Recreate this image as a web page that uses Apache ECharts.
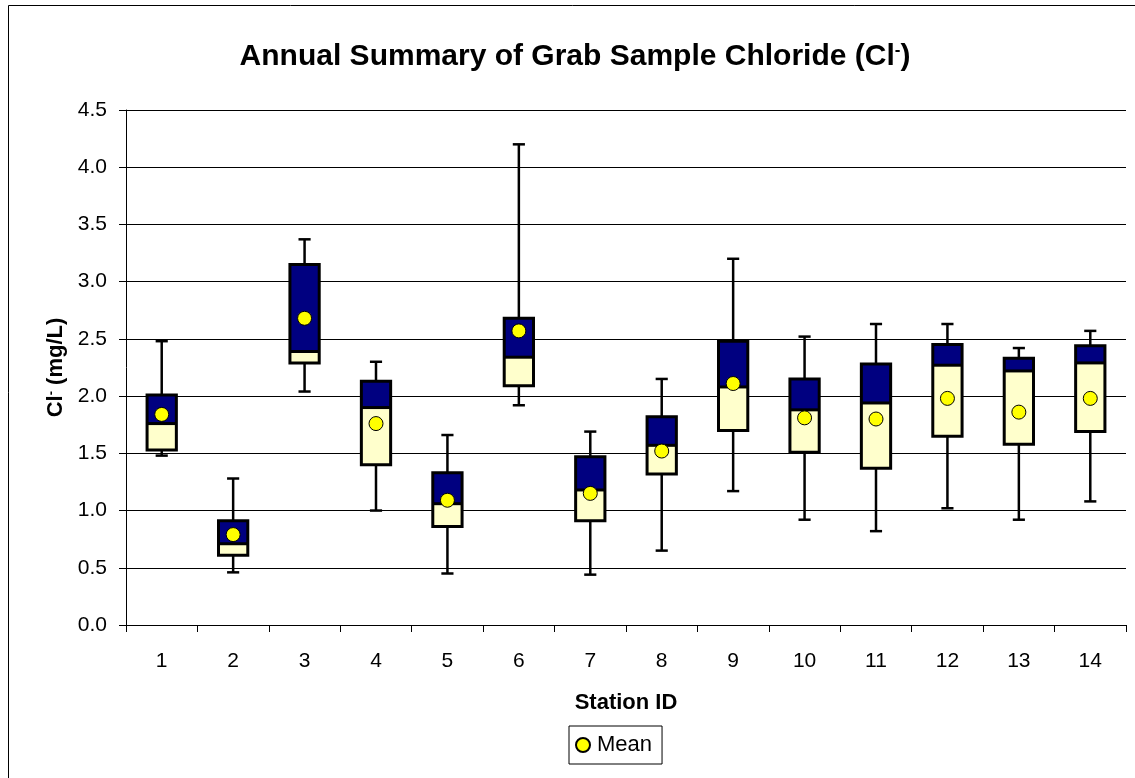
<!DOCTYPE html>
<html>
<head>
<meta charset="utf-8">
<script src="https://cdn.jsdelivr.net/npm/echarts@6/dist/echarts.min.js"></script>
<style>
html,body{margin:0;padding:0;background:#fff;}
#chart{width:1135px;height:778px;}
</style>
</head>
<body>
<div id="chart"></div>
<script>
// Data
const stations = ['1','2','3','4','5','6','7','8','9','10','11','12','13','14'];
const whiskerLow  = [1.48, 0.46, 2.04, 1.00, 0.45, 1.92, 0.44, 0.65, 1.17, 0.92, 0.82, 1.02, 0.92, 1.08];
const quartile1   = [1.53, 0.61, 2.29, 1.40, 0.86, 2.09, 0.91, 1.32, 1.70, 1.51, 1.37, 1.65, 1.58, 1.69];
const medians     = [1.76, 0.71, 2.39, 1.90, 1.06, 2.34, 1.18, 1.57, 2.08, 1.88, 1.94, 2.27, 2.22, 2.29];
const quartile3   = [2.01, 0.91, 3.15, 2.13, 1.33, 2.68, 1.47, 1.82, 2.48, 2.15, 2.28, 2.45, 2.33, 2.44];
const whiskerHigh = [2.48, 1.28, 3.37, 2.30, 1.66, 4.20, 1.69, 2.15, 3.20, 2.52, 2.63, 2.63, 2.42, 2.57];
const means       = [1.84, 0.79, 2.68, 1.76, 1.09, 2.57, 1.15, 1.52, 2.11, 1.81, 1.80, 1.98, 1.86, 1.98];
const yTicks = ['0.0','0.5','1.0','1.5','2.0','2.5','3.0','3.5','4.0','4.5'];

const boxData = stations.map((s, i) => [i, whiskerLow[i], quartile1[i], medians[i], quartile3[i], whiskerHigh[i]]);

const FONT = 'Liberation Sans, Arial, sans-serif';
const chart = echarts.init(document.getElementById('chart'), null, {renderer: 'canvas'});

function renderBox(params, api) {
  const x = api.value(0);
  const pLow = api.coord([x, api.value(1)]);
  const pQ1 = api.coord([x, api.value(2)]);
  const pMed = api.coord([x, api.value(3)]);
  const pQ3 = api.coord([x, api.value(4)]);
  const pHigh = api.coord([x, api.value(5)]);
  const band = api.size([1, 0])[0];
  const bw = band * 0.41;
  const cw = band * 0.17;
  const cx = pMed[0];
  const lineStyle = {stroke: '#000', lineWidth: 2.5};
  return {
    type: 'group',
    children: [
      {type: 'line', shape: {x1: cx, y1: pHigh[1], x2: cx, y2: pLow[1]}, style: lineStyle},
      {type: 'line', shape: {x1: cx - cw/2, y1: pHigh[1], x2: cx + cw/2, y2: pHigh[1]}, style: lineStyle},
      {type: 'line', shape: {x1: cx - cw/2, y1: pLow[1], x2: cx + cw/2, y2: pLow[1]}, style: lineStyle},
      {type: 'rect', shape: {x: cx - bw/2, y: pMed[1], width: bw, height: pQ1[1] - pMed[1]}, style: {fill: '#FFFFCC', stroke: null}},
      {type: 'rect', shape: {x: cx - bw/2, y: pQ3[1], width: bw, height: pMed[1] - pQ3[1]}, style: {fill: '#000080', stroke: null}},
      {type: 'line', shape: {x1: cx - bw/2, y1: pMed[1], x2: cx + bw/2, y2: pMed[1]}, style: {stroke: '#000', lineWidth: 3}},
      {type: 'rect', shape: {x: cx - bw/2, y: pQ3[1], width: bw, height: pQ1[1] - pQ3[1]}, style: {fill: null, stroke: '#000', lineWidth: 3}}
    ]
  };
}

const option = {
  animation: false,
  backgroundColor: '#fff',
  graphic: [{
    type: 'rect', left: 6, top: 3, silent: true,
    shape: {x: 0.5, y: 0.5, width: 1140, height: 790},
    style: {fill: null, stroke: '#000', lineWidth: 1}
  }],
  title: {
    text: 'Annual Summary of Grab Sample Chloride (Cl{sup|-})',
    left: 570, textAlign: 'center', top: 37,
    textStyle: {fontFamily: FONT, fontSize: 30, fontWeight: 'bold', color: '#000',
      rich: {sup: {fontFamily: FONT, fontSize: 17, fontWeight: 'bold', color: '#000', verticalAlign: 'top'}}}
  },
  grid: {left: 126, right: 9, top: 110, bottom: 153, containLabel: false},
  legend: {
    data: ['Mean'], left: 569, top: 726, orient: 'horizontal',
    borderColor: '#000', borderWidth: 1, padding: [8, 10, 8, 6], borderRadius: 0,
    itemWidth: 18, itemHeight: 14,
    textStyle: {fontFamily: FONT, fontSize: 22, color: '#000'}
  },
  xAxis: {
    type: 'category', data: stations, boundaryGap: true,
    name: 'Station ID', nameLocation: 'middle', nameGap: 67,
    nameTextStyle: {fontFamily: FONT, fontSize: 22, fontWeight: 'bold', color: '#000'},
    axisLine: {lineStyle: {color: '#000', width: 1}},
    axisTick: {show: true, length: 7, lineStyle: {color: '#000'}},
    axisLabel: {fontFamily: FONT, fontSize: 21, color: '#000', margin: 26},
    splitLine: {show: false}
  },
  yAxis: {
    type: 'value', min: 0, max: 4.5, interval: 0.5,
    name: 'Cl{sup|-} (mg/L)', nameLocation: 'middle', nameGap: 59, nameRotate: 90,
    nameTextStyle: {fontFamily: FONT, fontSize: 22, fontWeight: 'bold', color: '#000',
      rich: {sup: {fontFamily: FONT, fontSize: 13, fontWeight: 'bold', color: '#000', verticalAlign: 'top'}}},
    axisLine: {show: true, lineStyle: {color: '#000', width: 1}},
    axisTick: {show: true, length: 7, lineStyle: {color: '#000'}},
    axisLabel: {fontFamily: FONT, fontSize: 21, color: '#000', margin: 19,
      formatter: (v) => yTicks[Math.round(v / 0.5)]},
    splitLine: {show: true, lineStyle: {color: '#000', width: 1}}
  },
  series: [
    {
      name: 'Box', type: 'custom', renderItem: renderBox, data: boxData,
      encode: {x: 0, y: [1, 2, 3, 4, 5]}, z: 2
    },
    {
      name: 'Mean', type: 'scatter', data: means, symbol: 'circle', symbolSize: 14, z: 5,
      itemStyle: {color: '#FFFF00', borderColor: '#000', borderWidth: 1, opacity: 1}
    }
  ]
};
chart.setOption(option);
</script>
</body>
</html>
